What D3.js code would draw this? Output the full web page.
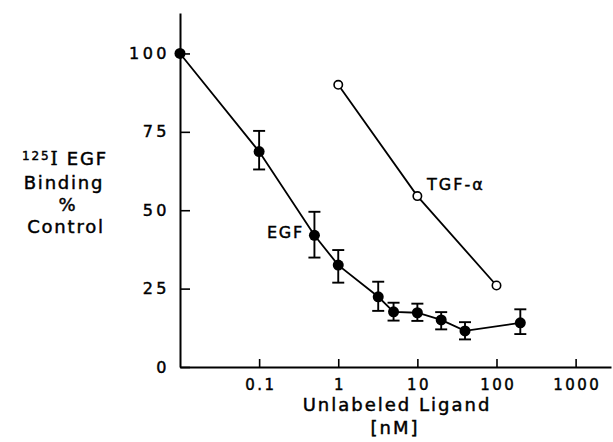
<!DOCTYPE html>
<html>
<head>
<meta charset="utf-8">
<script src="https://cdn.jsdelivr.net/npm/d3@7"></script>
<style>
  body { margin: 0; background: #fff; }
  svg { display: block; }
  text { font-family: "DejaVu Sans", sans-serif; fill: #000; stroke: #000; stroke-width: 0.45; }
</style>
</head>
<body>
<div id="chart"></div>
<script>
"use strict";

// EGF competition (filled circles, with error bars)
var egfConc  = [0.01, 0.1, 0.5, 1, 3.2, 5, 10, 20, 40, 200];
var egfValue = [100, 68.7, 42, 32.5, 22.4, 17.6, 17.3, 15, 11.5, 14.1];
var egfHigh  = [null, 75.3, 49.5, 37.3, 27.2, 20.5, 20.2, 17.5, 14.3, 18.4];
var egfLow   = [null, 63, 34.9, 26.9, 17.9, 14.8, 14.7, 12, 8.8, 10.5];

// TGF-alpha competition (open circles)
var tgfConc  = [1, 10, 100];
var tgfValue = [90, 54.5, 26];

var xTicks = [0.1, 1, 10, 100, 1000];
var xTickLabels = ["0.1", "1", "10", "100", "1000"];
var yTicks = [0, 25, 50, 75, 100];

var width = 613, height = 442;

var svg = d3.select("#chart").append("svg")
    .attr("width", width)
    .attr("height", height);

var x = d3.scaleLog().domain([0.01, 2800]).range([180, 611]);
var y = d3.scaleLinear().domain([0, 112.9]).range([367, 13]);

// axes
var xAxis = d3.axisBottom(x)
    .tickValues(xTicks)
    .tickSizeInner(-8)
    .tickSizeOuter(0)
    .tickPadding(12)
    .tickFormat(function (d, i) { return xTickLabels[i]; });

var gx = svg.append("g")
    .attr("transform", "translate(0," + y(0) + ")")
    .call(xAxis);
gx.select(".domain").attr("stroke-width", 1.8);
gx.selectAll(".tick line").attr("stroke-width", 1.6);
gx.selectAll(".tick text")
    .attr("font-size", 15)
    .attr("letter-spacing", 2.5)
    .attr("dx", 1.2)
    .style("font-family", "DejaVu Sans");

var yAxis = d3.axisLeft(y)
    .tickValues(yTicks)
    .tickSizeInner(-10)
    .tickSizeOuter(0)
    .tickPadding(10);

var gy = svg.append("g")
    .attr("transform", "translate(" + x(0.01) + ",0)")
    .call(yAxis);
gy.select(".domain").attr("stroke-width", 2);
gy.selectAll(".tick line").attr("stroke-width", 1.6);
gy.selectAll(".tick text")
    .attr("font-size", 16)
    .attr("letter-spacing", 3.5)
    .style("font-family", "DejaVu Sans");

// data lines
var egfPts = egfConc.map(function (c, i) { return [c, egfValue[i]]; });
var tgfPts = tgfConc.map(function (c, i) { return [c, tgfValue[i]]; });

var line = d3.line()
    .x(function (d) { return x(d[0]); })
    .y(function (d) { return y(d[1]); });

svg.append("path")
    .datum(egfPts)
    .attr("d", line)
    .attr("fill", "none")
    .attr("stroke", "#000")
    .attr("stroke-width", 1.8);

svg.append("path")
    .datum(tgfPts)
    .attr("d", line)
    .attr("fill", "none")
    .attr("stroke", "#000")
    .attr("stroke-width", 1.8);

// error bars
var cap = 6;
var errG = svg.append("g").attr("stroke", "#000").attr("stroke-width", 1.9);
egfConc.forEach(function (c, i) {
  if (egfHigh[i] === null) return;
  var cx = x(c);
  errG.append("line")
      .attr("x1", cx).attr("x2", cx)
      .attr("y1", y(egfHigh[i])).attr("y2", y(egfLow[i]));
  errG.append("line")
      .attr("x1", cx - cap).attr("x2", cx + cap)
      .attr("y1", y(egfHigh[i])).attr("y2", y(egfHigh[i]));
  errG.append("line")
      .attr("x1", cx - cap).attr("x2", cx + cap)
      .attr("y1", y(egfLow[i])).attr("y2", y(egfLow[i]));
});

svg.append("g").selectAll("circle")
    .data(egfPts)
  .enter().append("circle")
    .attr("cx", function (d) { return x(d[0]); })
    .attr("cy", function (d) { return y(d[1]); })
    .attr("r", 5.5)
    .attr("fill", "#000");

svg.append("g").selectAll("circle")
    .data(tgfPts)
  .enter().append("circle")
    .attr("cx", function (d) { return x(d[0]); })
    .attr("cy", function (d) { return y(d[1]); })
    .attr("r", 4.2)
    .attr("fill", "#fff")
    .attr("stroke", "#000")
    .attr("stroke-width", 1.6);

// series labels
svg.append("text")
    .attr("x", 304).attr("y", 238)
    .attr("text-anchor", "end")
    .attr("font-size", 16)
    .attr("letter-spacing", 1.8)
    .text("EGF");

svg.append("text")
    .attr("x", 427).attr("y", 190)
    .attr("font-size", 16)
    .attr("letter-spacing", 2)
    .text("TGF-\u03b1");

// x axis title
svg.append("text")
    .attr("x", 397).attr("y", 411)
    .attr("text-anchor", "middle")
    .attr("font-size", 18)
    .attr("letter-spacing", 2)
    .text("Unlabeled Ligand");

svg.append("text")
    .attr("x", 395).attr("y", 434)
    .attr("text-anchor", "middle")
    .attr("font-size", 18)
    .attr("letter-spacing", 2)
    .text("[nM]");

// y axis title
var yt = svg.append("text")
    .attr("x", 65).attr("y", 165)
    .attr("text-anchor", "middle")
    .attr("font-size", 18)
    .attr("letter-spacing", 1.8);
yt.append("tspan").attr("font-size", 12).attr("dy", -5).text("125");
yt.append("tspan").attr("dy", 5).style("font-family", "DejaVu Serif").text("I");
yt.append("tspan").text(" EGF");

svg.append("text")
    .attr("x", 64).attr("y", 189)
    .attr("text-anchor", "middle")
    .attr("font-size", 18)
    .attr("letter-spacing", 1.8)
    .text("Binding");

svg.append("text")
    .attr("x", 67).attr("y", 211)
    .attr("text-anchor", "middle")
    .attr("font-size", 18)
    .text("%");

svg.append("text")
    .attr("x", 66).attr("y", 233)
    .attr("text-anchor", "middle")
    .attr("font-size", 18)
    .attr("letter-spacing", 1.8)
    .text("Control");
</script>
</body>
</html>
